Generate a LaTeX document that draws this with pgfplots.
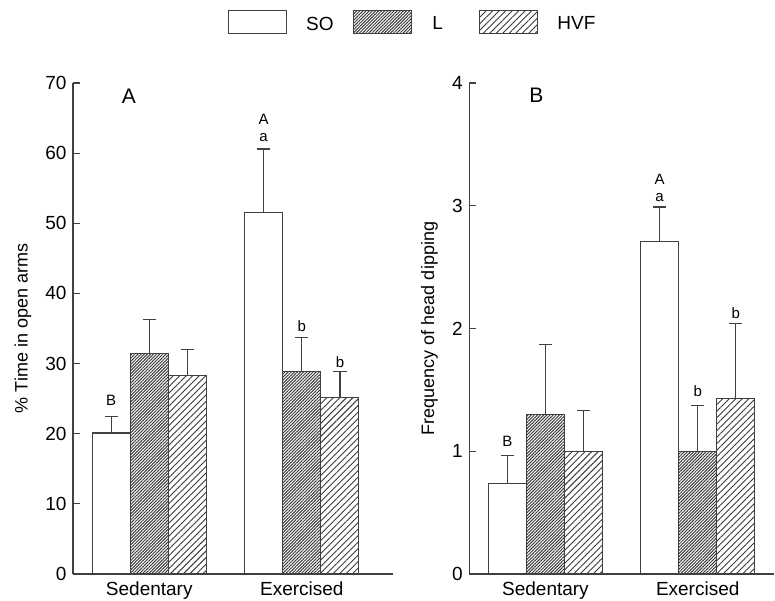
\documentclass[border=0pt]{standalone}
\usepackage{pgfplots}
\pgfplotsset{compat=1.18}
\usetikzlibrary{patterns.meta}
\usepackage{fontspec}
\setmainfont{Liberation Sans}

% Panel A: % time in open arms (mean, +SEM); x = group position (0 sedentary, 1 exercised)
\pgfplotstableread{
x     y     e
-0.25 20.1  2.4
0.75  51.6  9.0
}\timeSO
\pgfplotstableread{
x     y     e
0.00  31.4  4.9
1.00  28.9  4.8
}\timeL
\pgfplotstableread{
x     y     e
0.25  28.3  3.7
1.25  25.1  3.8
}\timeHVF

% Panel B: frequency of head dipping
\pgfplotstableread{
x     y     e
-0.25 0.735 0.23
0.75  2.71  0.28
}\dipSO
\pgfplotstableread{
x     y     e
0.00  1.30  0.57
1.00  1.00  0.37
}\dipL
\pgfplotstableread{
x     y     e
0.25  1.00  0.33
1.25  1.43  0.61
}\dipHVF

\definecolor{edge}{HTML}{404040}
\definecolor{hatch}{HTML}{3A3A3A}

\newcommand{\bigfont}{\fontsize{19}{22}\selectfont}
\newcommand{\midfont}{\fontsize{15}{18}\selectfont}

\pgfplotsset{
  panel/.style={
    scale only axis,
    height=491pt,
    axis lines=left,
    axis line style={-, draw=edge, line width=1.2pt},
    enlargelimits=false,
    clip=false,
    ymin=0,
    xmin=-0.5,
    tick align=inside,
    major tick length=7pt,
    ytick style={draw=edge, line width=1.1pt},
    xtick style={draw=none},
    xtick={0,1},
    xticklabels={Sedentary,Exercised},
    ticklabel style={font=\bigfont},
    /pgf/number format/assume math mode=true,
    yticklabel style={xshift=-3pt},
    xticklabel style={yshift=3pt},
    ylabel style={font=\fontsize{18}{21}\selectfont},
    ybar, bar shift=0pt, bar width=38pt,
  },
  ebars/.style={
    error bars/.cd,
      y dir=plus, y explicit,
      error mark=-,
      error bar style={draw=edge, line width=1.2pt, solid, fill=none},
      error mark options={draw=edge, line width=1.2pt, mark size=6.6pt, rotate=90, solid, fill=none},
  },
  so/.style={draw=edge, line width=1.1pt, fill=white, ebars},
  lo/.style={draw=edge, line width=1.1pt,
    pattern={Lines[angle=45,distance=2.2pt,line width=1pt]}, pattern color=hatch, ebars},
  hvf/.style={draw=edge, line width=1.1pt,
    pattern={Lines[angle=45,distance=4.6pt,line width=0.9pt]}, pattern color=hatch, ebars},
}

\begin{document}
\begin{tikzpicture}[x=1pt,y=1pt]
\path[use as bounding box] (0,0) rectangle (775,601);

% ---------- Panel A ----------
\begin{axis}[panel,
  at={(73pt,27pt)}, anchor=south west,
  width=320pt, xmax=1.598,
  ymax=70, ytick={0,10,...,70},
  ylabel={\% Time in open arms},
  ylabel style={at={(axis description cs:-0.156,0.5)}, anchor=center},
  legend style={at={(axis description cs:0.484,1.125)}, anchor=west,
    draw=none, fill=none, inner sep=0pt, font=\bigfont,
    nodes={inner sep=0pt},
    legend columns=-1,
    /tikz/every even column/.append style={column sep=0pt},
    /tikz/every odd column/.append style={column sep=0pt}},
  legend image code/.code={\draw[#1] (0pt,-9pt) rectangle (58pt,14pt);},
]
\addplot[so]  table[x=x,y=y,y error=e] {\timeSO};
\addlegendentry{\hspace*{19pt}\makebox[47pt][l]{SO}}
\addplot[lo]  table[x=x,y=y,y error=e] {\timeL};
\addlegendentry{\hspace*{20pt}\makebox[47pt][l]{L}}
\addplot[hvf] table[x=x,y=y,y error=e] {\timeHVF};
\addlegendentry{\hspace*{19pt}HVF}

\node[font=\fontsize{21}{24}\selectfont, anchor=base] at (axis cs:-0.133,67.1) {A};
\node[font=\midfont, anchor=base] at (axis cs:-0.25,24.0) {B};
\node[font=\midfont, anchor=base] at (axis cs:0.75,64.1) {A};
\node[font=\midfont, anchor=base] at (axis cs:0.75,61.6) {a};
\node[font=\midfont, anchor=base] at (axis cs:1.00,34.6) {b};
\node[font=\midfont, anchor=base] at (axis cs:1.25,29.5) {b};
\end{axis}

% ---------- Panel B ----------
\begin{axis}[panel,
  at={(469.3pt,27pt)}, anchor=south west,
  width=305pt, xmax=1.503,
  ymax=4, ytick={0,1,...,4},
  ylabel={Frequency of head dipping},
  ylabel style={at={(axis description cs:-0.131,0.5)}, anchor=center},
]
\addplot[so]  table[x=x,y=y,y error=e] {\dipSO};
\addplot[lo]  table[x=x,y=y,y error=e] {\dipL};
\addplot[hvf] table[x=x,y=y,y error=e] {\dipHVF};

\node[font=\fontsize{21}{24}\selectfont, anchor=base] at (axis cs:-0.059,3.845) {B};
\node[font=\midfont, anchor=base] at (axis cs:-0.25,1.038) {B};
\node[font=\midfont, anchor=base] at (axis cs:0.75,3.176) {A};
\node[font=\midfont, anchor=base] at (axis cs:0.75,3.035) {a};
\node[font=\midfont, anchor=base] at (axis cs:1.00,1.445) {b};
\node[font=\midfont, anchor=base] at (axis cs:1.25,2.083) {b};
\end{axis}
\end{tikzpicture}
\end{document}
